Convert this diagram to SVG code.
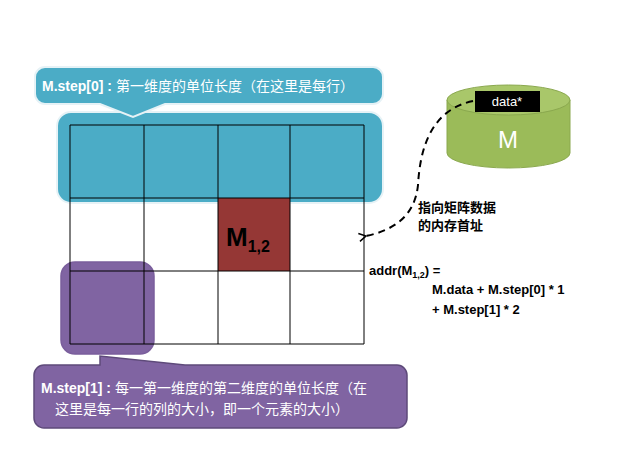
<svg xmlns="http://www.w3.org/2000/svg" width="620" height="465" viewBox="0 0 620 465">
<defs>
<style>
.grid{stroke:#000;stroke-width:1;fill:none}
.t{font-family:"Liberation Sans","Noto Sans CJK SC",sans-serif}
.cw{fill:#fff;font-size:14px}
.cb{fill:#000;font-size:13px;font-weight:bold}
</style>
<marker id="ah" markerWidth="10" markerHeight="10" refX="2" refY="5" orient="auto" markerUnits="userSpaceOnUse"><path d="M9,1 L2,5 L9,9" fill="none" stroke="#000" stroke-width="1.5"/></marker>
</defs>
<rect width="620" height="465" fill="#fff"/>
<g id="row0-highlight"><rect x="57" y="112" width="326" height="91" rx="14" fill="#4bacc6" stroke="#e6f2f6" stroke-width="2"/></g>
<g id="cell-m12"><rect x="218" y="198" width="72" height="73" fill="#953735"/>
<text class="t" x="226" y="246" font-size="26" font-weight="bold">M<tspan font-size="16" dy="6">1,2</tspan></text></g>
<g id="cell-highlight"><rect x="61" y="262" width="93" height="92" rx="14" fill="#8064a2" stroke="#7a5e9c" stroke-width="1.5"/></g>
<g id="grid">
<path class="grid" d="M70,125H364M70,198H364M70,271H364M70,344H364M70,125V344M144,125V344M218,125V344M290,125V344M364,125V344"/>
</g>
<g id="callout-step0">
<path d="M45,67H373a10,10 0 0 1 10,10V94a10,10 0 0 1-10,10H165L133,117L100,104H45a10,10 0 0 1-10-10V77a10,10 0 0 1 10-10Z" fill="#4bacc6" stroke="#e6f2f6" stroke-width="2"/>
<text class="t cw" x="42" y="91"><tspan font-weight="bold">M.step[0] : </tspan>第一维度的单位长度（在这里是每行）</text>
</g>
<g id="callout-step1">
<path d="M44,365H100L100,356L185,365H397a10,10 0 0 1 10,10V418a10,10 0 0 1-10,10H44a10,10 0 0 1-10-10V375a10,10 0 0 1 10-10Z" fill="#8064a2" stroke="#5e4a7a" stroke-width="1.5"/>
<text class="t cw" x="41" y="393"><tspan font-weight="bold">M.step[1] : </tspan>每一第一维度的第二维度的单位长度（在</text>
<text class="t cw" x="55" y="414">这里是每一行的列的大小，即一个元素的大小）</text>
</g>
<g id="matrix-M">
<path d="M447,100V153A61.5,15 0 0 0 570,153V100Z" fill="#9bbb59" stroke="#8aa84e"/>
<ellipse cx="508.5" cy="100" rx="61.5" ry="15" fill="#a9c76a" stroke="#8aa84e"/>
<rect x="475" y="91" width="65" height="21" fill="#000"/>
<text class="t" x="507" y="106" font-size="13" fill="#fff" text-anchor="middle">data*</text>
<text class="t" x="508" y="148" font-size="24" fill="#fff" text-anchor="middle">M</text>
</g>
<g id="connectors">
<path d="M473,101C430,110 420,150 418,185C415,215 395,230 366,236" fill="none" stroke="#000" stroke-width="2" stroke-dasharray="7,5" marker-end="url(#ah)"/>
</g>
<g id="labels">
<text class="t cb" x="418" y="212">指向矩阵数据</text>
<text class="t cb" x="418" y="230">的内存首址</text>
<text class="t cb" x="369" y="275">addr(M<tspan font-size="9" dy="3">1,2</tspan><tspan dy="-3">) =</tspan></text>
<text class="t cb" x="432" y="294">M.data + M.step[0] * 1</text>
<text class="t cb" x="432" y="314">+ M.step[1] * 2</text>
</g>
</svg>
